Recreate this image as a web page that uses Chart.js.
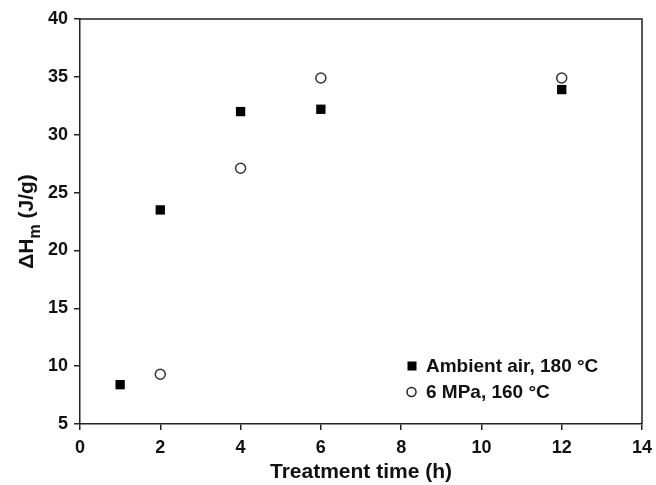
<!DOCTYPE html>
<html>
<head>
<meta charset="utf-8">
<script src="https://cdn.jsdelivr.net/npm/chart.js@4/dist/chart.umd.min.js"></script>
<style>
html,body{margin:0;padding:0;background:#fff;}
#wrap{width:656px;height:485px;position:relative;}
</style>
</head>
<body>
<div id="wrap"><canvas id="c" width="656" height="485"></canvas></div>
<script>
const timeAir = [1, 2, 4, 6, 12];
const dhAir = [8.4, 23.5, 32.0, 32.2, 33.9];
const timeMPa = [2, 4, 6, 12];
const dhMPa = [9.3, 27.1, 34.9, 34.9];
const seriesLabels = ['Ambient air, 180 °C', '6 MPa, 160 °C'];
const xTitle = 'Treatment time (h)';
const yTitleParts = ['ΔH', 'm', ' (J/g)'];

const FONT = '"Liberation Sans", Arial, sans-serif';

const boxPlugin = {
  id: 'box',
  afterDatasetsDraw(chart) {
    const {ctx, chartArea: a} = chart;
    ctx.save();
    ctx.strokeStyle = '#222';
    ctx.lineWidth = 1.5;
    ctx.beginPath();
    ctx.moveTo(a.left, a.top);
    ctx.lineTo(a.right, a.top);
    ctx.lineTo(a.right, a.bottom);
    ctx.stroke();
    ctx.restore();
  },
  afterDraw(chart) {
    const {ctx, chartArea: a} = chart;
    // y-axis title with subscript
    ctx.save();
    ctx.fillStyle = '#111';
    ctx.textBaseline = 'alphabetic';
    const big = 'bold 21px ' + FONT;
    const small = 'bold 16px ' + FONT;
    ctx.font = big;
    const w1 = ctx.measureText(yTitleParts[0]).width;
    const w3 = ctx.measureText(yTitleParts[2]).width;
    ctx.font = small;
    const w2 = ctx.measureText(yTitleParts[1]).width;
    const total = w1 + w2 + w3;
    const cy = (a.top + a.bottom) / 2;
    ctx.translate(33, cy);
    ctx.rotate(-Math.PI / 2);
    let x = -total / 2;
    ctx.font = big;
    ctx.fillText(yTitleParts[0], x, 0);
    x += w1;
    ctx.font = small;
    ctx.fillText(yTitleParts[1], x, 7);
    x += w2;
    ctx.font = big;
    ctx.fillText(yTitleParts[2], x, 0);
    ctx.restore();

    // legend inside plot
    ctx.save();
    const lx = a.right - 230;
    const ly = [a.bottom - 58, a.bottom - 32];
    chart.data.datasets.forEach((ds, i) => {
      const cx = lx, cyy = ly[i];
      if (ds.pointStyle === 'rect') {
        ctx.fillStyle = '#000';
        ctx.fillRect(cx - 4.5, cyy - 4.5, 9, 9);
      } else {
        ctx.beginPath();
        ctx.arc(cx - 0.5, cyy, 4.5, 0, Math.PI * 2);
        ctx.fillStyle = '#fff';
        ctx.fill();
        ctx.lineWidth = 1.5;
        ctx.strokeStyle = '#222';
        ctx.stroke();
      }
      ctx.fillStyle = '#111';
      ctx.font = 'bold 19px ' + FONT;
      ctx.textBaseline = 'middle';
      ctx.textAlign = 'left';
      ctx.fillText(ds.label, cx + 14, cyy + 1);
    });
    ctx.restore();
  }
};

new Chart(document.getElementById('c'), {
  type: 'scatter',
  data: {
    datasets: [
      {
        label: seriesLabels[0],
        data: timeAir.map((t, i) => ({x: t, y: dhAir[i]})),
        pointStyle: 'rect',
        pointRadius: 6.6,
        backgroundColor: '#000',
        borderColor: '#000',
        borderWidth: 0
      },
      {
        label: seriesLabels[1],
        data: timeMPa.map((t, i) => ({x: t, y: dhMPa[i]})),
        pointStyle: 'circle',
        pointRadius: 5,
        backgroundColor: '#fff',
        borderColor: '#333',
        borderWidth: 1.5
      }
    ]
  },
  options: {
    responsive: false,
    animation: false,
    devicePixelRatio: 1,
    layout: {padding: {left: 0, top: 19, right: 14, bottom: 0}},
    plugins: {
      legend: {display: false},
      tooltip: {enabled: false}
    },
    scales: {
      x: {
        type: 'linear',
        min: 0, max: 14,
        afterFit(s) { s.height = 61; s.paddingLeft = 0; s.paddingRight = 0; },
        ticks: {stepSize: 2, color: '#111', padding: 7, font: {family: FONT, size: 18, weight: 'bold'}},
        grid: {drawOnChartArea: false, drawTicks: true, tickLength: 6, color: '#222', lineWidth: 1.5},
        border: {display: true, color: '#222', width: 1.5},
        title: {display: true, text: xTitle, color: '#111', padding: {top: 0, bottom: 0}, font: {family: FONT, size: 21, weight: 'bold'}}
      },
      y: {
        type: 'linear',
        min: 5, max: 40,
        afterFit(s) { s.width = 80; s.paddingTop = 0; s.paddingBottom = 0; },
        ticks: {stepSize: 5, color: '#111', padding: 6, font: {family: FONT, size: 18, weight: 'bold'}},
        grid: {drawOnChartArea: false, drawTicks: true, tickLength: 6, color: '#222', lineWidth: 1.5},
        border: {display: true, color: '#222', width: 1.5}
      }
    }
  },
  plugins: [boxPlugin]
});
</script>
</body>
</html>
